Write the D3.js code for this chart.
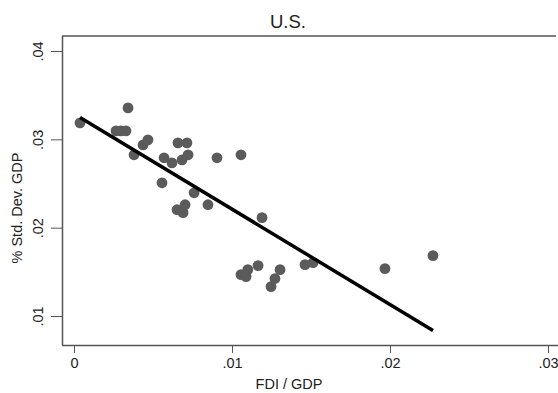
<!DOCTYPE html>
<html>
<head>
<meta charset="utf-8">
<script src="https://cdn.jsdelivr.net/npm/d3@7"></script>
<style>
  body { margin: 0; background: #fff; }
  text { font-family: "Liberation Sans", Arial, sans-serif; fill: #222; }
</style>
</head>
<body>
<div class="container"></div>
<script>
// FDI / GDP (x) vs % Std. Dev. GDP (y)
const fdi = [.00038, .00342, .00266, .00297, .00329, .00437, .00468, .0038,
             .0057, .0062, .00658, .00715, .00684, .00722, .00905, .01057,
             .00557, .0076, .00848, .00652, .00703, .0069, .0119,
             .01057, .0110, .01089, .01165, .01304, .01272, .01247,
             .01462, .01513, .01968, .02272]
const sdev = [.03186, .03356, .03096, .03096, .03096, .02938, .02994, .02825,
              .02791, .02734, .0296, .0296, .02768, .02825, .02791, .02825,
              .02508, .02395, .0226, .02203, .0226, .0217, .02113,
              .01469, .01525, .01446, .01571, .01525, .01424, .01333,
              .01582, .01605, .01537, .01684]
const xTicks = [0, .01, .02, .03]
const yTicks = [.01, .02, .03, .04]
// fitted line: sdev = a + b * fdi, over the range of fdi
const fitA = .03289
const fitB = -1.0795

const w = 558
const h = 393
const fmt = d => d === 0 ? "0" : d3.format(".2f")(d).replace(/^0/, "")

const xScale = d3.scaleLinear().domain([0, .03]).range([74, 548])
const yScale = d3.scaleLinear().domain([.01, .04]).range([316, 51])

const svg = d3.select(".container")
              .append("svg")
              .attr("width", w)
              .attr("height", h)

// frame
svg.append("line").attr("x1", 62).attr("x2", 556).attr("y1", 36).attr("y2", 36)
   .attr("stroke", "#555").attr("stroke-width", 1.5)

const xAxis = d3.axisBottom(xScale).tickValues(xTicks).tickFormat(fmt).tickSize(8).tickSizeOuter(0)
const gx = svg.append("g")
   .attr("transform", `translate(0, 345)`)
   .call(xAxis)
gx.select(".domain").attr("d", "M62,0.5H558").attr("stroke", "#555").attr("stroke-width", 1.5)
gx.selectAll(".tick line").attr("stroke", "#555")
gx.selectAll(".tick text").attr("font-size", 14.5).attr("dy", "0.85em")
  .attr("font-family", "Liberation Sans, Arial, sans-serif").attr("fill", "#222")

const yAxis = d3.axisLeft(yScale).tickValues(yTicks).tickFormat(fmt).tickSize(11).tickSizeOuter(0)
const gy = svg.append("g")
   .attr("transform", `translate(62, 0)`)
   .call(yAxis)
gy.select(".domain").attr("d", "M0.5,36V345").attr("stroke", "#555").attr("stroke-width", 1.5)
gy.selectAll(".tick line").attr("stroke", "#555")
gy.selectAll(".tick text")
  .attr("font-size", 14.5)
  .attr("font-family", "Liberation Sans, Arial, sans-serif").attr("fill", "#222")
  .attr("x", null).attr("dy", null)
  .attr("text-anchor", "middle")
  .attr("transform", "translate(-19,0) rotate(-90)")

// points
svg.selectAll("circle")
   .data(fdi)
   .enter()
   .append("circle")
   .attr("cx", d => xScale(d))
   .attr("cy", (d, i) => yScale(sdev[i]))
   .attr("r", 5.4)
   .style("fill", "#5b5b5b")

// fitted line
const xr = d3.extent(fdi)
svg.append("line")
   .attr("x1", xScale(xr[0])).attr("y1", yScale(fitA + fitB * xr[0]))
   .attr("x2", xScale(xr[1])).attr("y2", yScale(fitA + fitB * xr[1]))
   .attr("stroke", "#000").attr("stroke-width", 3.5)

// titles
svg.append("text").attr("x", 288).attr("y", 28).attr("text-anchor", "middle")
   .attr("font-size", 18.5).text("U.S.")
svg.append("text").attr("x", 289).attr("y", 389).attr("text-anchor", "middle")
   .attr("font-size", 14.5).text("FDI / GDP")
svg.append("text").attr("transform", "translate(22, 208) rotate(-90)")
   .attr("text-anchor", "middle").attr("font-size", 14.5).text("% Std. Dev. GDP")
</script>
</body>
</html>
